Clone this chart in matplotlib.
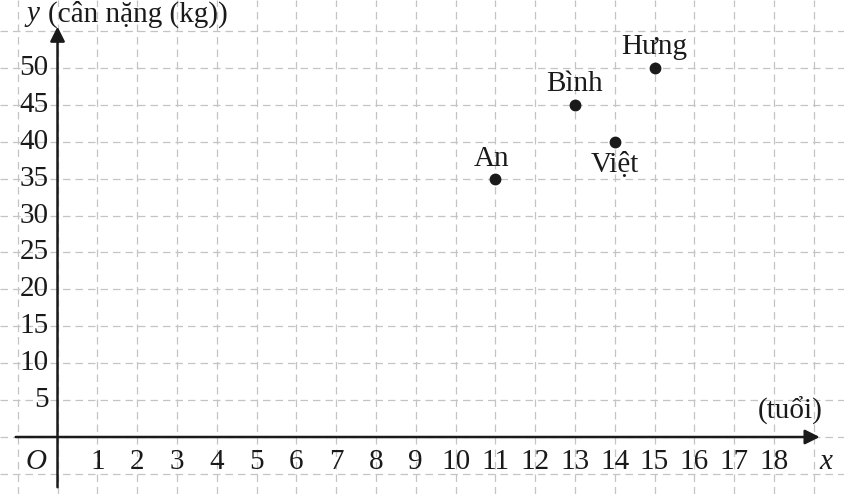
import matplotlib
matplotlib.use("Agg")
import matplotlib.pyplot as plt

names = ["An", "Bình", "Việt", "Hưng"]
ages = [11, 13, 14, 15]
weights = [35, 45, 40, 50]
x_ticks = list(range(1, 19))
y_ticks = list(range(5, 55, 5))

plt.rcParams['font.family'] = ['Liberation Serif', 'DejaVu Serif']
FS = 21
INK = '#1a1a1a'

fig = plt.figure(figsize=(8.44, 4.94), dpi=100)
ax = fig.add_axes([0, 0, 1, 1])
ax.set_xlim(-1.445, 19.76)
ax.set_ylim(-7.72, 59.2)
for s in ax.spines.values():
    s.set_visible(False)
ax.set_xticks(range(-1, 20))
ax.set_yticks(range(-5, 60, 5))
ax.tick_params(length=0, labelbottom=False, labelleft=False)
ax.grid(True, color='#c4c4c4', linestyle=(0, (6, 4)), linewidth=0.9)
ax.set_axisbelow(True)

# axes with arrows
ax.annotate('', xy=(19.15, 0), xytext=(-1.05, 0),
            arrowprops=dict(arrowstyle='-|>', lw=1.8, color=INK,
                            mutation_scale=22, shrinkA=0, shrinkB=0))
ax.annotate('', xy=(0, 55.6), xytext=(0, -6.8),
            arrowprops=dict(arrowstyle='-|>', lw=1.8, color=INK,
                            mutation_scale=22, shrinkA=0, shrinkB=0))

for v in x_ticks:
    ax.text(v, -3.4, str(v), ha='center', va='center', fontsize=FS, color=INK)
for v in y_ticks:
    ax.text(-0.22, v, str(v), ha='right', va='center', fontsize=FS, color=INK)

ax.text(-0.55, -3.4, 'O', ha='center', va='center', fontsize=FS, color=INK, style='italic')
ax.text(19.3, -3.4, 'x', ha='center', va='center', fontsize=FS, color=INK, style='italic')
ax.text(18.4, 3.5, '(tuổi)', ha='center', va='center', fontsize=FS, color=INK)
ax.text(-0.78, 57.3, 'y', ha='left', va='center', fontsize=FS, color=INK, style='italic')
ax.text(-0.25, 57.3, '(cân nặng (kg))', ha='left', va='center', fontsize=FS, color=INK)

ax.plot(ages, weights, 'o', color=INK, markersize=7.5, zorder=5)
offsets = {"An": (-0.1, 2.7), "Bình": (0.0, 2.8), "Việt": (0.0, -3.2), "Hưng": (0.0, 2.8)}
for n, a, w in zip(names, ages, weights):
    dx, dy = offsets[n]
    ax.text(a + dx, w + dy, n, ha='center', va='center', fontsize=FS, color=INK)

fig.savefig('out.png', dpi=100)
